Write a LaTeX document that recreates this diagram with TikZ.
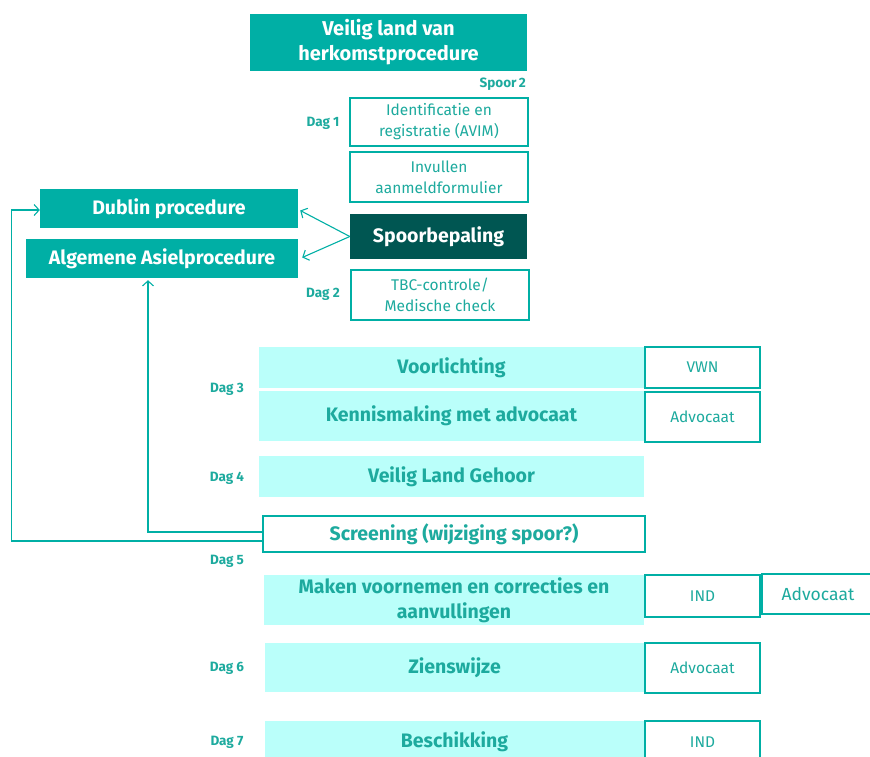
\documentclass[tikz,border=0pt]{standalone}
\usepackage{fontspec}
\setmainfont{Fira Sans}
\usetikzlibrary{arrows.meta}
\definecolor{teal1}{HTML}{00AFA5}
\definecolor{tealdark}{HTML}{005652}
\definecolor{teallight}{HTML}{BAFFFA}
\definecolor{tealtext}{HTML}{1DAA9E}
\begin{document}
\begin{tikzpicture}[x=1pt,y=-1pt,
  box/.style={minimum width=#1, inner sep=0pt, align=center},
  solidbox/.style={fill=teal1, text=white, font=\bfseries\fontsize{19.5}{23}\selectfont},
  darkbox/.style={fill=tealdark, text=white, font=\bfseries\fontsize{19.5}{23}\selectfont},
  outbox/.style={draw=teal1, line width=1.1pt, fill=white, text=tealtext, font=\fontsize{15.5}{21}\selectfont},
  lightbox/.style={fill=teallight, text=tealtext, font=\bfseries\fontsize{19.5}{25}\selectfont},
  daglabel/.style={text=tealtext, font=\bfseries\fontsize{13.5}{15}\selectfont, inner sep=0pt},
  conn/.style={draw=teal1, line width=1.1pt, -{Straight Barb[length=5pt,width=11pt]}}
]
\useasboundingbox (0,0) rectangle (870,756);
\clip (0,0) rectangle (870,756);

% top
\node[solidbox, box=277pt, minimum height=57pt, font=\bfseries\fontsize{20}{25}\selectfont] (veilig) at (388.5,42.5) {Veilig land van\\herkomstprocedure};
\node[daglabel, anchor=east] (spoor2) at (526,84) {Spoor\,2};
\node[outbox, box=178pt, minimum height=48pt] (ident) at (439,122) {Identificatie en\\registratie (AVIM)};
\node[outbox, box=178pt, minimum height=50pt] (invul) at (439,177) {Invullen\\aanmeldformulier};
\node[darkbox, box=177pt, minimum height=45pt] (spoorb) at (438.5,236.5) {Spoorbepaling};
\node[outbox, box=178pt, minimum height=50pt] (tbc) at (440,295) {TBC-controle/\\Medische check};
\node[daglabel] (dag1) at (323,123) {Dag 1};
\node[daglabel] (dag2) at (323,294) {Dag 2};

\node[solidbox, box=258pt, minimum height=39pt] (dublin) at (169,208.5) {Dublin procedure};
\node[solidbox, box=272pt, minimum height=39pt] (alg) at (162,258.5) {Algemene Asielprocedure};

% light boxes
\node[lightbox, box=385pt, minimum height=41pt] (voor) at (451.5,367.5) {Voorlichting};
\node[lightbox, box=385pt, minimum height=50pt] (kennis) at (451.5,416) {Kennismaking met advocaat};
\node[outbox, box=115pt, minimum height=41pt] (vwn) at (702.5,367.5) {VWN};
\node[outbox, box=115pt, minimum height=50pt] (adv1) at (702.5,417) {Advocaat};
\node[daglabel] (dag3) at (227,389) {Dag 3};

\node[lightbox, box=385pt, minimum height=41pt] (gehoor) at (451.5,476.5) {Veilig Land Gehoor};
\node[daglabel] (dag4) at (227,478) {Dag 4};

\node[outbox, box=382pt, minimum height=36pt, font=\bfseries\fontsize{19.5}{23}\selectfont] (screen) at (454,534) {Screening (wijziging spoor?)};
\node[daglabel] (dag5) at (227,561) {Dag 5};

\node[lightbox, box=380pt, minimum height=50pt] (maken) at (454,600) {Maken voornemen en correcties en\\aanvullingen};
\node[outbox, box=115pt, minimum height=42pt] (ind1) at (702.5,596) {IND};
\node[outbox, box=112pt, minimum height=40pt, font=\fontsize{17.5}{21}\selectfont] (adv2) at (818,594) {Advocaat};

\node[lightbox, box=379pt, minimum height=49pt] (zien) at (454.5,667.5) {Zienswijze};
\node[outbox, box=115pt, minimum height=50pt] (adv3) at (702.5,668) {Advocaat};
\node[daglabel] (dag6) at (227,668) {Dag 6};

\node[lightbox, box=379pt, minimum height=42pt] (besch) at (454.5,742) {Beschikking};
\node[outbox, box=115pt, minimum height=42pt] (ind2) at (702.5,742) {IND};
\node[daglabel] (dag7) at (227,742) {Dag 7};

% connectors
\draw[conn] (spoorb.west) -- ([xshift=2pt,yshift=-2pt]dublin.east);
\draw[conn] (spoorb.west) -- ([xshift=4pt,yshift=1pt]alg.east);
\draw[conn] ([yshift=2pt]screen.west) -| ([xshift=-14pt,yshift=-2pt]alg.south);
\draw[conn] ([yshift=-7pt]screen.west) -| ([xshift=-28pt,yshift=-1.5pt]dublin.west) -- ([yshift=-1.5pt]dublin.west);
\end{tikzpicture}
\end{document}
